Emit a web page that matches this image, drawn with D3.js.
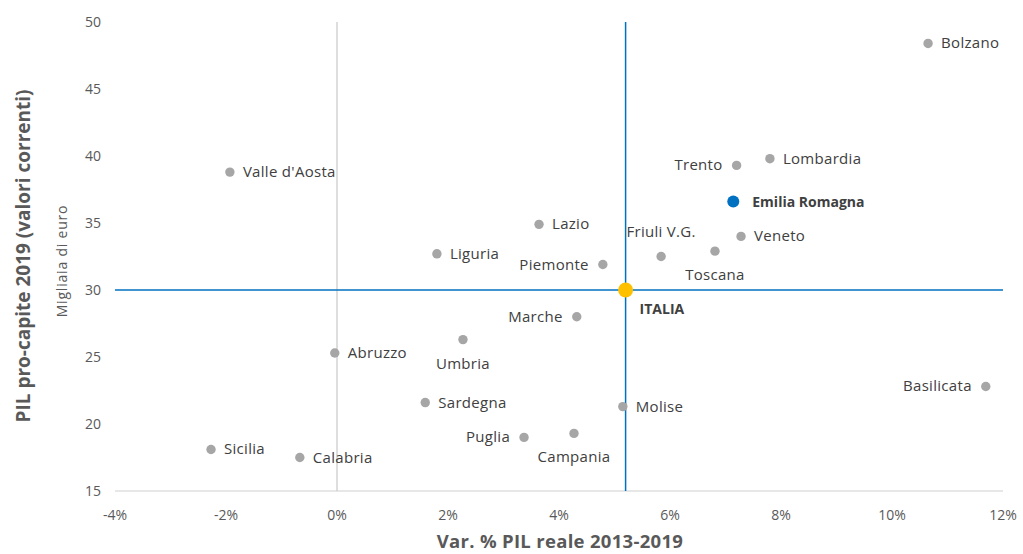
<!DOCTYPE html>
<html>
<head>
<meta charset="utf-8">
<script src="https://cdn.jsdelivr.net/npm/d3@7"></script>
<style>
  body { margin: 0; background: white; }
  text { font-family: "Open Sans", "Noto Sans", sans-serif; }
</style>
</head>
<body>
<div id="container"></div>
<script>
// regioni: var. % PIL reale 2013-2019, PIL pro-capite 2019
let regions = ["Bolzano", "Trento", "Lombardia", "Emilia Romagna", "Veneto", "Toscana", "Friuli V.G.",
  "Piemonte", "Lazio", "Liguria", "Valle d'Aosta", "Marche", "Umbria", "Abruzzo", "Sardegna",
  "Molise", "Basilicata", "Puglia", "Campania", "Sicilia", "Calabria"];
let varPil = [10.65, 7.2, 7.8, 7.14, 7.28, 6.81, 5.84, 4.79, 3.64, 1.8, -1.93, 4.32, 2.27, -0.04, 1.59,
  5.15, 11.69, 3.37, 4.27, -2.27, -0.67];
let pilProCapite = [48.4, 39.3, 39.8, 36.6, 34.0, 32.9, 32.5, 31.9, 34.9, 32.7, 38.8, 28.0, 26.3, 25.3, 21.6,
  21.3, 22.8, 19.0, 19.3, 18.1, 17.5];
// where the label goes: r = right, l = left, b = below, t = above
let labelPos = ["r", "l", "r", "r", "r", "b", "t", "l", "r", "r", "r", "l", "b", "r", "r",
  "r", "l", "l", "b", "r", "r"];
let italia = {name: "ITALIA", x: 5.2, y: 30};

let xTicks = [-4, -2, 0, 2, 4, 6, 8, 10, 12];
let yTicks = [15, 20, 25, 30, 35, 40, 45, 50];

let w = 1023;
let h = 554;

let viz = d3.select("#container").append("svg")
    .attr("width", w)
    .attr("height", h);

let x = d3.scaleLinear().domain([-4, 12]).range([115, 1003]);
let y = d3.scaleLinear().domain([15, 50]).range([491, 22]);

// bottom axis line
viz.append("line")
  .attr("x1", x(-4)).attr("x2", x(12))
  .attr("y1", y(15)).attr("y2", y(15))
  .attr("stroke", "#d0d0d0").attr("stroke-width", 1.2);

// vertical line at 0%
viz.append("line")
  .attr("x1", x(0)).attr("x2", x(0))
  .attr("y1", y(50)).attr("y2", y(15))
  .attr("stroke", "#c8c8c8").attr("stroke-width", 1.2);

// tick labels
viz.selectAll(".xtick").data(xTicks).enter()
  .append("text")
    .attr("class", "xtick")
    .attr("x", d => x(d))
    .attr("y", 520)
    .attr("text-anchor", "middle")
    .attr("font-size", 14)
    .attr("fill", "#595959")
    .text(d => d + "%");

viz.selectAll(".ytick").data(yTicks).enter()
  .append("text")
    .attr("class", "ytick")
    .attr("x", 101)
    .attr("y", d => y(d) + 5)
    .attr("text-anchor", "end")
    .attr("font-size", 14)
    .attr("fill", "#595959")
    .text(d => d);

// italia lines
viz.append("line")
  .attr("x1", x(italia.x)).attr("x2", x(italia.x))
  .attr("y1", y(50)).attr("y2", y(15))
  .attr("stroke", "#0070c0").attr("stroke-width", 1.5);
viz.append("line")
  .attr("x1", x(-4)).attr("x2", x(12))
  .attr("y1", y(italia.y)).attr("y2", y(italia.y))
  .attr("stroke", "#0070c0").attr("stroke-width", 1.5);

// axis titles
viz.append("text")
  .attr("x", 560).attr("y", 548)
  .attr("text-anchor", "middle")
  .attr("font-size", 18.5).attr("font-weight", "bold")
  .attr("letter-spacing", 0.3)
  .attr("fill", "#595959")
  .text("Var. % PIL reale 2013-2019");

viz.append("text")
  .attr("transform", "translate(30,256) rotate(-90)")
  .attr("text-anchor", "middle")
  .attr("font-size", 19).attr("font-weight", "bold")
  .attr("fill", "#595959")
  .text("PIL pro-capite 2019 (valori correnti)");

viz.append("text")
  .attr("transform", "translate(67,261) rotate(-90)")
  .attr("text-anchor", "middle")
  .attr("font-size", 14)
  .attr("letter-spacing", 0.8)
  .attr("fill", "#595959")
  .text("Migliaia di euro");

// points
let data = regions.map((r, i) => ({name: r, x: varPil[i], y: pilProCapite[i], pos: labelPos[i]}));
let isEmilia = d => d.name == "Emilia Romagna";

viz.selectAll(".dot").data(data).enter()
  .append("circle")
    .attr("class", "dot")
    .attr("cx", d => x(d.x))
    .attr("cy", d => y(d.y))
    .attr("r", d => isEmilia(d) ? 6 : 4.7)
    .attr("fill", d => isEmilia(d) ? "#0070c0" : "#a6a6a6");

viz.selectAll(".lab").data(data).enter()
  .append("text")
    .attr("class", "lab")
    .attr("x", d => {
      if (d.pos == "r") return x(d.x) + (isEmilia(d) ? 19 : 13);
      if (d.pos == "l") return x(d.x) - 14;
      return x(d.x);
    })
    .attr("y", d => {
      if (d.pos == "b") return y(d.y) + 29;
      if (d.pos == "t") return y(d.y) - 20;
      return y(d.y) + 5;
    })
    .attr("text-anchor", d => d.pos == "r" ? "start" : d.pos == "l" ? "end" : "middle")
    .attr("font-size", d => isEmilia(d) ? 14 : 15)
    .attr("letter-spacing", d => isEmilia(d) ? 0 : 0.3)
    .attr("font-weight", d => isEmilia(d) ? "bold" : "normal")
    .attr("fill", "#404040")
    .text(d => d.name);

viz.append("circle")
  .attr("cx", x(italia.x)).attr("cy", y(italia.y))
  .attr("r", 7.5)
  .attr("fill", "#ffc000");

viz.append("text")
  .attr("x", x(italia.x) + 14).attr("y", y(italia.y) + 24)
  .attr("font-size", 14).attr("font-weight", "bold")
  .attr("fill", "#404040")
  .text(italia.name);
</script>
</body>
</html>
